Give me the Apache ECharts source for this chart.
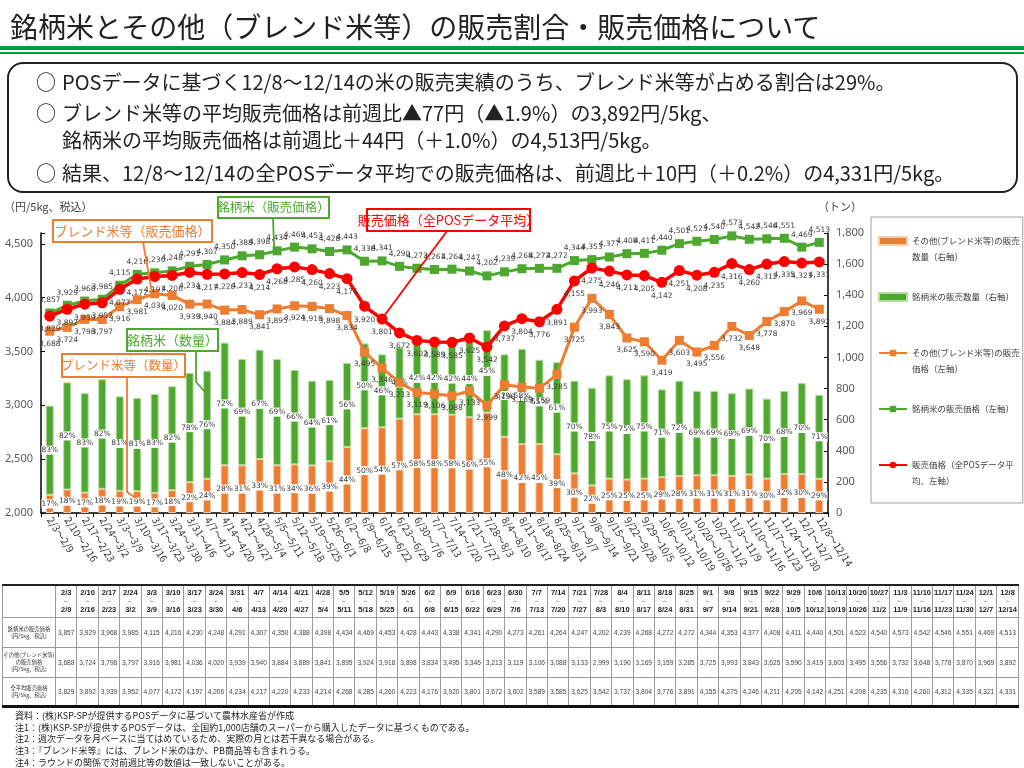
<!DOCTYPE html>
<html><head><meta charset="utf-8">
<script src="https://cdn.jsdelivr.net/npm/echarts/dist/echarts.min.js"></script>
<style>
body{margin:0;width:1024px;height:768px;overflow:hidden;background:#fff;font-family:'Noto Sans CJK JP',sans-serif;position:relative;color:#222;}
#chart{position:absolute;left:0;top:0;width:1024px;height:768px;}
.abs{position:absolute;white-space:nowrap;}
#title{left:10px;top:6px;font-size:28px;line-height:40px;color:#222;}
#gl1{left:0;top:46px;width:1024px;height:4px;background:#00A040;}
#gl2{left:0;top:52px;width:1024px;height:2px;background:#00A040;}
#box{left:7px;top:62px;width:1007px;height:127px;border:2px solid #222;border-radius:16px;}
.ln{font-size:20px;line-height:26px;color:#222;}
.ci{font-size:20px;line-height:26px;color:#222;}
#tbl{position:absolute;left:2px;top:584px;width:1017px;border-collapse:collapse;table-layout:fixed;font-family:'Liberation Sans',Arial,sans-serif;}
#tbl td,#tbl th{border:1px solid #9a9a9a;padding:0;text-align:center;overflow:hidden;white-space:nowrap;}
#tbl th{font-size:7.5px;font-weight:bold;line-height:8.5px;height:31px;color:#222;border-top:2px solid #222;}
#tbl th .w{font-size:6px;font-weight:normal;color:#555;}
#tbl td{font-size:6.6px;color:#444;height:29px;}
#tbl td.lab{font-family:'Noto Sans CJK JP',sans-serif;font-size:5.3px;line-height:7px;white-space:normal;color:#333;}
#tbl tr.last td{border-bottom:3px solid #111;height:27px;}
#notes{left:15px;top:710px;font-size:9px;line-height:11.7px;color:#222;}
</style></head><body>
<div id="chart"></div>
<div class="abs" id="title">銘柄米とその他（ブレンド米等）の販売割合・販売価格について</div>
<div class="abs" id="gl1"></div><div class="abs" id="gl2"></div>
<div class="abs" id="box"></div>
<div class="abs ci" style="left:36px;top:69px">○</div>
<div class="abs ln" style="left:62px;top:69px">POSデータに基づく12/8～12/14の米の販売実績のうち、ブレンド米等が占める割合は29%。</div>
<div class="abs ci" style="left:36px;top:100px">○</div>
<div class="abs ln" style="left:62px;top:100px">ブレンド米等の平均販売価格は前週比▲77円（▲1.9%）の3,892円/5kg、</div>
<div class="abs ln" style="left:62px;top:127px">銘柄米の平均販売価格は前週比＋44円（＋1.0%）の4,513円/5kg。</div>
<div class="abs ci" style="left:36px;top:160px">○</div>
<div class="abs ln" style="left:62px;top:160px">結果、12/8～12/14の全POSデータ平均での販売価格は、前週比＋10円（＋0.2%）の4,331円/5kg。</div>
<table id="tbl"></table>
<div class="abs" id="notes">資料：(株)KSP-SPが提供するPOSデータに基づいて農林水産省が作成<br>注1：(株)KSP-SPが提供するPOSデータは、全国約1,000店舗のスーパーから購入したデータに基づくものである。<br>注2：週次データを月ベースに当てはめているため、実際の月とは若干異なる場合がある。<br>注3：『ブレンド米等』には、ブレンド米のほか、PB商品等も含まれうる。<br>注4：ラウンドの関係で対前週比等の数値は一致しないことがある。</div>
<script>
const weekStart = ['2/3','2/10','2/17','2/24','3/3','3/10','3/17','3/24','3/31','4/7','4/14','4/21','4/28','5/5','5/12','5/19','5/26','6/2','6/9','6/16','6/23','6/30','7/7','7/14','7/21','7/28','8/4','8/11','8/18','8/25','9/1','9/8','9/15','9/22','9/29','10/6','10/13','10/20','10/27','11/3','11/10','11/17','11/24','12/1','12/8'];
const weekEnd = ['2/9','2/16','2/23','3/2','3/9','3/16','3/23','3/30','4/6','4/13','4/20','4/27','5/4','5/11','5/18','5/25','6/1','6/8','6/15','6/22','6/29','7/6','7/13','7/20','7/27','8/3','8/10','8/17','8/24','8/31','9/7','9/14','9/21','9/28','10/5','10/12','10/19','10/26','11/2','11/9','11/16','11/23','11/30','12/7','12/14'];
const brandPrice = [3857,3929,3968,3985,4115,4216,4230,4248,4291,4307,4350,4388,4398,4434,4469,4453,4428,4443,4338,4341,4290,4273,4261,4264,4247,4202,4239,4268,4272,4272,4344,4353,4377,4408,4411,4440,4501,4523,4540,4573,4542,4546,4551,4469,4513];
const blendPrice = [3688,3724,3798,3797,3916,3981,4036,4020,3939,3940,3884,3889,3841,3895,3924,3918,3898,3834,3495,3346,3213,3119,3106,3088,3133,2999,3190,3169,3159,3285,3725,3993,3843,3625,3590,3419,3603,3495,3556,3732,3648,3778,3870,3969,3892];
const avgPrice = [3829,3892,3939,3952,4077,4172,4197,4206,4234,4217,4220,4233,4214,4268,4285,4260,4223,4176,3920,3801,3672,3602,3589,3585,3625,3542,3737,3804,3776,3891,4155,4275,4246,4211,4205,4142,4251,4208,4235,4316,4260,4312,4335,4321,4331];
const blendShare = [17,18,17,18,19,19,17,18,22,24,28,31,33,31,34,36,39,44,50,54,57,58,58,58,56,55,48,42,45,39,30,22,25,25,25,29,28,31,31,31,31,30,32,30,29];
const brandShare = [83,82,83,82,81,81,83,82,78,76,72,69,67,69,66,64,61,56,50,46,43,42,42,42,44,45,52,58,55,61,70,78,75,75,75,71,72,69,69,69,69,70,68,70,71];
const blendQty = [117,151,131,155,143,141,130,147,198,220,307,307,347,307,313,306,333,425,545,551,607,635,635,632,616,646,490,443,443,378,255,177,221,215,221,231,238,243,243,239,248,221,251,251,220];
const brandQty = [573,689,639,705,607,599,635,668,702,695,788,683,703,683,607,544,522,540,545,469,458,460,460,458,484,529,530,612,542,592,595,628,664,645,664,564,612,542,542,531,552,514,534,584,540];
const leftTicks = [2000,2500,3000,3500,4000,4500];
const rightTicks = [0,200,400,600,800,1000,1200,1400,1600,1800];

const categories = weekStart.map((s,i)=>s+'～'+weekEnd[i]);
const fmt = v => Number(v).toLocaleString('en-US');

// table
const rowLabels = ['銘柄米の販売価格<br>(円/5kg、税込)','その他(ブレンド米等)の販売価格<br>(円/5kg、税込)','全平均販売価格<br>(円/5kg、税込)'];
const rowData = [brandPrice, blendPrice, avgPrice];
let html = '<colgroup><col style="width:53px">' + weekStart.map(()=>'<col>').join('') + '</colgroup>';
html += '<tr><th></th>' + weekStart.map((s,i)=>`<th>${s}<br><span class="w">～</span><br>${weekEnd[i]}</th>`).join('') + '</tr>';
rowData.forEach((arr,r)=>{
  html += `<tr class="${r===2?'last':''}"><td class="lab">${rowLabels[r]}</td>` + arr.map(v=>`<td>${fmt(v)}</td>`).join('') + '</tr>';
});
document.getElementById('tbl').innerHTML = html;

const ORANGE='#ED7D31', GREEN='#4EA72E', RED='#FF0000';
const names = ['その他(ブレンド米等)の販売数量（右軸）','銘柄米の販売数量（右軸）','その他(ブレンド米等)の販売価格（左軸）','銘柄米の販売価格（左軸）','販売価格（全POSデータ平均、左軸）'];
const legendText = {};
legendText[names[0]] = '\nその他(ブレンド米等)の販売\n数量（右軸）';
legendText[names[1]] = '銘柄米の販売数量（右軸）';
legendText[names[2]] = '\nその他(ブレンド米等)の販売\n価格（左軸）';
legendText[names[3]] = '銘柄米の販売価格（左軸）';
legendText[names[4]] = '\n販売価格（全POSデータ平\n均、左軸）';

const chart = echarts.init(document.getElementById('chart'), null, {renderer:'canvas'});
const barLabel = (shares) => ({
  show:true, position:'inside', fontSize:7.5, color:'#404040', backgroundColor:'#fff', padding:[1,0,0,0],
  fontFamily:'DejaVu Sans', formatter: p => shares[p.dataIndex] + '%'
});
const lineLabel = (pos) => ({show:true, position:pos, distance:4, fontSize:7.5, color:'#404040', fontFamily:'DejaVu Sans', formatter:p=>fmt(p.value)});

const option = {
  animation:false,
  textStyle:{fontFamily:'Noto Sans CJK JP'},
  grid:{left:41, right:196, top:233, bottom:255, containLabel:false, outerBoundsMode:'none'},
  legend:{
    orient:'vertical', left:871, top:217, itemWidth:28, itemHeight:8, itemGap:24,
    padding:[0,3,14,7], borderColor:'#A0A0A0', borderWidth:1,
    textStyle:{fontSize:8.5, lineHeight:16, color:'#404040', fontFamily:'Noto Sans CJK JP'},
    formatter: n => legendText[n],
    data:[{name:names[0], icon:'rect'},{name:names[1], icon:'rect'},names[2],names[3],names[4]]
  },
  xAxis:{type:'category', data:categories, boundaryGap:true,
    axisLine:{lineStyle:{color:'#000', width:1.5}},
    axisTick:{show:true, length:4, lineStyle:{color:'#000'}},
    axisLabel:{interval:0, rotate:-57, fontSize:10, color:'#333', margin:5, fontFamily:'Noto Sans CJK JP'},
    splitLine:{show:false}
  },
  yAxis:[
    {type:'value', min:leftTicks[0], max:4600, interval:leftTicks[1]-leftTicks[0],
      axisLine:{show:true, lineStyle:{color:'#000', width:1.5}},
      axisTick:{show:true, inside:true, length:4, lineStyle:{color:'#000'}},
      axisLabel:{fontSize:11, color:'#595959', margin:8, fontFamily:'Noto Sans', formatter:v=> (leftTicks.indexOf(v)>=0 ? fmt(v) : '')},
      splitLine:{show:false}},
    {type:'value', min:rightTicks[0], max:rightTicks[rightTicks.length-1], interval:rightTicks[1]-rightTicks[0], position:'right',
      axisLine:{show:true, lineStyle:{color:'#000', width:1.5}},
      axisTick:{show:true, inside:true, length:4, lineStyle:{color:'#000'}},
      axisLabel:{fontSize:11, color:'#595959', margin:8, fontFamily:'Noto Sans', formatter:v=>fmt(v)},
      splitLine:{show:false}}
  ],
  series:[
    {name:names[0], type:'bar', yAxisIndex:1, stack:'q', data:blendQty, barWidth:8, z:2,
      itemStyle:{color:ORANGE, borderColor:'#F8CBAD', borderWidth:1}, label:barLabel(blendShare)},
    {name:names[1], type:'bar', yAxisIndex:1, stack:'q', data:brandQty, barWidth:8, z:2,
      itemStyle:{color:GREEN, borderColor:'#B5DDA0', borderWidth:1}, label:barLabel(brandShare)},
    {name:names[2], type:'line', yAxisIndex:0, data:blendPrice, z:4, symbol:'rect', symbolSize:9,
      lineStyle:{color:ORANGE, width:3}, itemStyle:{color:ORANGE}, label:lineLabel('bottom')},
    {name:names[3], type:'line', yAxisIndex:0, data:brandPrice, z:4, symbol:'rect', symbolSize:9,
      lineStyle:{color:GREEN, width:3}, itemStyle:{color:GREEN}, label:lineLabel('top')},
    {name:names[4], type:'line', yAxisIndex:0, data:avgPrice, z:5, symbol:'circle', symbolSize:11,
      lineStyle:{color:RED, width:3.5}, itemStyle:{color:RED}, label:lineLabel('bottom')}
  ]
};
chart.setOption(option);

// callouts (anchored to data points through the chart's own scales)
const px = (si, idx, val) => chart.convertToPixel({seriesIndex:si}, [idx, val]);
const callouts = [
  {text:'ブレンド米等（販売価格）', color:ORANGE, box:[53,220,159,22], fs:13, pts:()=>{const p=px(2,6,blendPrice[6]);return [[143,242],[p[0]-3,p[1]-3]];}},
  {text:'銘柄米（販売価格）', color:GREEN, box:[218,197,111,21], fs:12.5, pts:()=>{const p=px(3,13,brandPrice[13]);return [[273,218],[p[0]-3,p[1]-4]];}},
  {text:'販売価格（全POSデータ平均）', color:RED, box:[367,209,163,22], fs:13, pts:()=>{const p=px(4,19,avgPrice[19]);return [[447,231],[p[0]+2,p[1]-3]];}},
  {text:'銘柄米（数量）', color:GREEN, box:[127,329,91,22], fs:13, pts:()=>{const p=px(1,9,(blendQty[9]+brandQty[9])*0.85);return [[196,351],[196,382],[p[0]-2,p[1]]];}},
  {text:'ブレンド米等（数量）', color:ORANGE, box:[62,354,123,23], fs:12.5, pts:()=>{const p=px(0,5,blendQty[5]*0.7);return [[127,377],[127,492],[p[0]-2,p[1]]];}}
];
const graphic = [];
callouts.forEach(c=>{
  graphic.push({type:'polyline', z:50, shape:{points:c.pts()}, style:{stroke:c.color, lineWidth:1.8, fill:null}});
  graphic.push({type:'rect', z:51, shape:{x:c.box[0], y:c.box[1], width:c.box[2], height:c.box[3]}, style:{fill:'#fff', stroke:c.color, lineWidth:2}});
  graphic.push({type:'text', z:52, x:c.box[0]+c.box[2]/2, y:c.box[1]+c.box[3]/2, style:{text:c.text, fill:c.color, fontSize:c.fs, fontFamily:'Noto Sans CJK JP', align:'center', verticalAlign:'middle'}});
});
graphic.push({type:'text', z:52, x:4, y:207, style:{text:'（円/5kg、税込）', fill:'#404040', fontSize:11, fontFamily:'Noto Sans CJK JP', verticalAlign:'middle'}});
graphic.push({type:'text', z:52, x:818, y:207, style:{text:'（トン）', fill:'#404040', fontSize:11, fontFamily:'Noto Sans CJK JP', verticalAlign:'middle'}});
chart.setOption({graphic:graphic});
</script>
</body></html>
